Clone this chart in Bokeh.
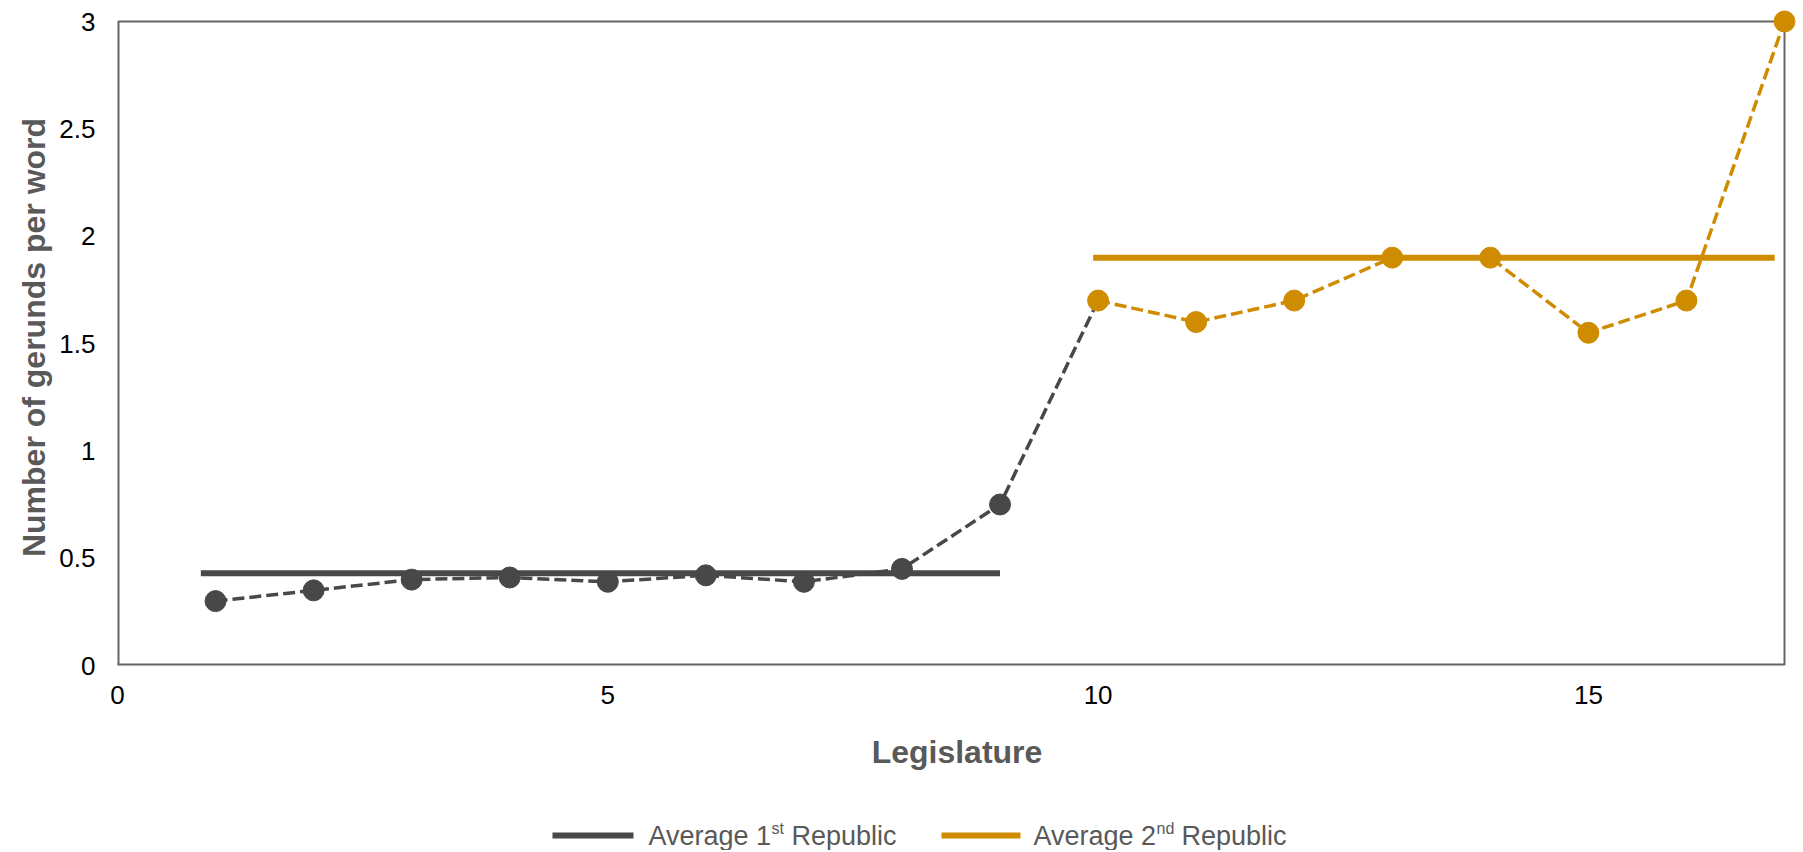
from bokeh.plotting import figure
from bokeh.models import Range1d, FixedTicker, Title
from bokeh.layouts import column
from bokeh.core.properties import value
from bokeh.embed import file_html
from bokeh.resources import INLINE

# ---- data ----
legislature = [1, 2, 3, 4, 5, 6, 7, 8, 9, 10, 11, 12, 13, 14, 15, 16, 17]
gerunds = [0.30, 0.35, 0.40, 0.41, 0.39, 0.42, 0.39, 0.45, 0.75,
           1.70, 1.60, 1.70, 1.90, 1.90, 1.55, 1.70, 3.00]
n_first = 9  # legislatures 1-9 : 1st Republic
avg1_x = [0.85, 9.0]
avg1_y = [0.43, 0.43]
avg2_x = [9.95, 16.9]
avg2_y = [1.90, 1.90]
x_ticks = [0, 5, 10, 15]
y_ticks = [0, 0.5, 1, 1.5, 2, 2.5, 3]
y_tick_labels = ["0", "0.5", "1", "1.5", "2", "2.5", "3"]
x_title = "Legislature"
y_title = "Number of gerunds per word"
legend_main = ["Average 1", "Average 2"]
legend_sup = ["st", "nd"]
legend_tail = ["Republic", "Republic"]

GREY = "#484848"
ORANGE = "#D08C00"
TEXT_GREY = "#595959"
FRAME = "#666666"
FONT = "Liberation Sans"

W = 1803
FW, FH = 1667, 644        # size of the 0..17 x 0..3 box in px
PAD = 12                  # extra room right/top so the last marker is not clipped
BL = 117
BR = W - BL - FW
BT = 21
HM = 800                  # main figure height
HL = 50                   # legend strip height
X0, X1, Y0, Y1 = 0, 17, 0, 3
XE = X1 + PAD / FW * (X1 - X0)
YE = Y1 + PAD / FH * (Y1 - Y0)

p = figure(width=W, height=HM, frame_width=FW + PAD, frame_height=FH + PAD,
           x_range=Range1d(X0, XE), y_range=Range1d(Y0, YE),
           output_backend="svg", toolbar_location=None,
           min_border_left=BL, min_border_top=BT - PAD,
           min_border_right=BR - PAD, min_border_bottom=HM - BT - FH)
p.background_fill_color = "white"
p.border_fill_color = "white"
p.outline_line_color = None
p.xgrid.visible = False
p.ygrid.visible = False

for ax in (p.xaxis[0], p.yaxis[0]):
    ax.axis_line_color = None
    ax.major_tick_line_color = None
    ax.minor_tick_line_color = None
    ax.major_tick_out = 0
    ax.major_tick_in = 0
    ax.major_label_text_font = FONT
    ax.major_label_text_font_size = "26px"
    ax.major_label_text_color = "#000000"
    ax.axis_label_text_font = FONT
    ax.axis_label_text_font_size = "32px"
    ax.axis_label_text_font_style = "bold"
    ax.axis_label_text_color = TEXT_GREY

p.xaxis.ticker = FixedTicker(ticks=x_ticks)
p.yaxis.ticker = FixedTicker(ticks=y_ticks)
p.yaxis.major_label_overrides = {t: l for t, l in zip(y_ticks, y_tick_labels)}
p.xaxis.axis_label = x_title
p.xaxis.major_label_standoff = 20
p.xaxis.axis_label_standoff = 27
p.yaxis.major_label_standoff = 22

# y-axis title as a side title so it can sit a little below the frame centre
p.add_layout(Title(text=y_title, align="center", offset=-18, standoff=9,
                   text_font=FONT, text_font_size="32px",
                   text_font_style="bold", text_color=TEXT_GREY), "left")

# plot-area box (left/bottom edges sit on the frame edge, so they are wider)
p.line([X0, X0], [Y0, Y1], line_color=FRAME, line_width=4)
p.line([X0, X1], [Y0, Y0], line_color=FRAME, line_width=4)
p.line([X0, X1, X1], [Y1, Y1, Y0], line_color=FRAME, line_width=2)

# average lines
p.line(avg1_x, avg1_y, line_color=GREY, line_width=6)
p.line(avg2_x, avg2_y, line_color=ORANGE, line_width=6)

# dashed series
p.line(legislature[:n_first + 1], gerunds[:n_first + 1], line_color=GREY,
       line_width=3.5, line_dash="12 5")
p.line(legislature[n_first:], gerunds[n_first:], line_color=ORANGE,
       line_width=3.5, line_dash="12 5")
p.scatter(legislature[:n_first], gerunds[:n_first], size=21,
          fill_color=GREY, line_color=GREY)
p.scatter(legislature[n_first:], gerunds[n_first:], size=21,
          fill_color=ORANGE, line_color=ORANGE)

# ---- legend strip (separate figure; same horizontal frame as the chart) ----
lg = figure(width=W, height=HL, frame_width=FW + PAD,
            x_range=Range1d(X0, XE), y_range=Range1d(0, HL),
            output_backend="svg", toolbar_location=None,
            x_axis_type=None, y_axis_type=None,
            min_border_left=BL, min_border_right=BR - PAD,
            min_border_top=0, min_border_bottom=0)
lg.outline_line_color = None
lg.xgrid.visible = False
lg.ygrid.visible = False
lg.background_fill_color = "white"
lg.border_fill_color = "white"


def px2x(page_x):
    return X0 + (page_x - BL) / FW * (X1 - X0)


cy = (HM + HL) - 835                      # legend centre, px above strip bottom
swatches = [(552, 633), (941, 1020)]      # page px
text_x = [648, 1033]
sup_dx = [123, 123]
tail_dx = [143, 148]
colors = [GREY, ORANGE]
common = dict(text_font=value(FONT), text_color=TEXT_GREY,
              text_baseline="middle", text_align="left")
for i in range(2):
    lg.line([px2x(swatches[i][0]), px2x(swatches[i][1])], [cy, cy],
            line_color=colors[i], line_width=6)
    lg.text(x=[px2x(text_x[i])], y=[cy], text=[legend_main[i]],
            text_font_size="27px", **common)
    lg.text(x=[px2x(text_x[i] + sup_dx[i])], y=[cy + 7], text=[legend_sup[i]],
            text_font_size="16px", **common)
    lg.text(x=[px2x(text_x[i] + tail_dx[i])], y=[cy], text=[legend_tail[i]],
            text_font_size="27px", **common)

layout = column(p, lg, spacing=0)
open("out.html", "w").write(file_html(layout, INLINE))
